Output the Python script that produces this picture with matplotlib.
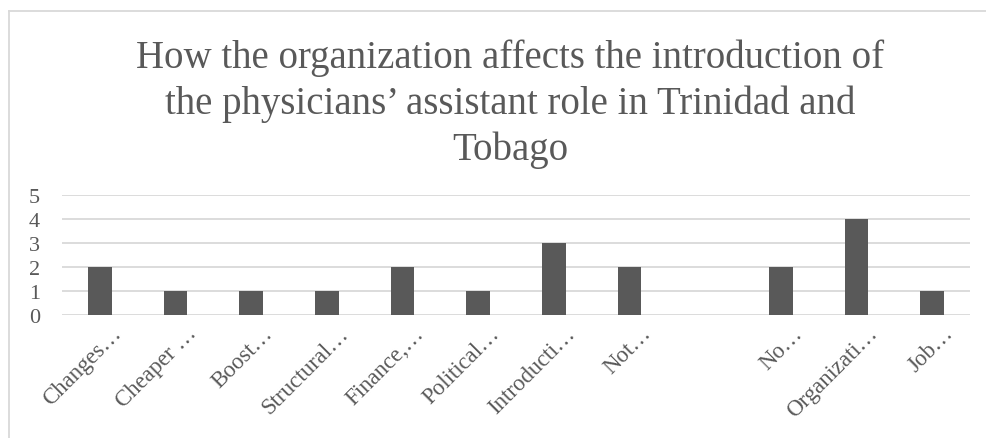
import numpy as np
import matplotlib.pyplot as plt
import matplotlib.transforms as mtransforms
from matplotlib.lines import Line2D

# categories (one blank category in the original sheet)
labels = ["Changes…", "Cheaper …", "Boost…", "Structural…", "Finance,…", "Political…",
          "Introducti…", "Not…", "", "No…", "Organizati…", "Job…"]
counts = [2, 1, 1, 1, 2, 1, 3, 2, np.nan, 2, 4, 1]
yticks = [0, 1, 2, 3, 4, 5]

title = ("How the organization affects the introduction of\n"
         "the physicians\u2019 assistant role in Trinidad and\n"
         "Tobago")

txt_col = "#595959"
plt.rcParams['font.family'] = ['Liberation Serif', 'DejaVu Serif']

fig = plt.figure(figsize=(9.87, 4.39), dpi=100)
ax = fig.add_axes([62/987, 1 - 316/439, 908/987, 120/439])

x = np.arange(len(labels))
ax.bar(x, counts, width=0.317, color="#595959", zorder=3)

ax.set_xlim(-0.5, len(labels) - 0.5)
ax.set_ylim(0, 5)
ax.set_yticks(yticks)
ax.set_yticklabels([str(t) for t in yticks], fontsize=16, color=txt_col)
ax.set_xticks(x)
ax.set_xticklabels(labels, rotation=45, ha="right", rotation_mode="anchor",
                   fontsize=16.5, color=txt_col)
ax.tick_params(axis="both", length=0)
ax.tick_params(axis="x", pad=6)
ax.tick_params(axis="y", pad=16)
ax.grid(axis="y", color="#d9d9d9", lw=1.3, zorder=0)
for s in ax.spines.values():
    s.set_visible(False)

# nudge the slanted labels to the right like the original
shift = mtransforms.ScaledTranslation(0.11, 0.01, fig.dpi_scale_trans)
for lab in ax.get_xticklabels():
    lab.set_transform(lab.get_transform() + shift)

fig.text(510/987, 1 - 104/439, title, ha="center", va="center",
         fontsize=28, color=txt_col, linespacing=1.3)

# chart area border (left and top edges visible)
fig.add_artist(Line2D([9/987, 9/987], [0, 1 - 12/439], color="#d9d9d9", lw=1.3))
fig.add_artist(Line2D([9/987, 1], [1 - 12/439, 1 - 12/439], color="#d9d9d9", lw=1.3))

fig.savefig("out.png", dpi=100, facecolor="white")
